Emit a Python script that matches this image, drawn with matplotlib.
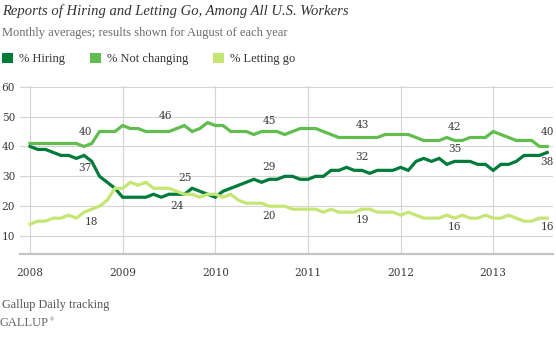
import numpy as np
import matplotlib
matplotlib.use('Agg')
from matplotlib import pyplot as plt
from matplotlib.patches import Patch

#   MONTHLY AVERAGES, JAN 2008 - AUG 2013
years = [2008, 2009, 2010, 2011, 2012, 2013]

hiring = [40, 39, 39, 38, 37, 37, 36, 37, 35, 30, 28, 26,
          23, 23, 23, 23, 24, 23, 24, 24, 24, 26, 25, 24,
          23, 25, 26, 27, 28, 29, 28, 29, 29, 30, 30, 29,
          29, 30, 30, 32, 32, 33, 32, 32, 31, 32, 32, 32,
          33, 32, 35, 36, 35, 36, 34, 35, 35, 35, 34, 34,
          32, 34, 34, 35, 37, 37, 37, 38]

not_changing = [41, 41, 41, 41, 41, 41, 41, 40, 41, 45, 45, 45,
                47, 46, 46, 45, 45, 45, 45, 46, 47, 45, 46, 48,
                47, 47, 45, 45, 45, 44, 45, 45, 45, 44, 45, 46,
                46, 46, 45, 44, 43, 43, 43, 43, 43, 43, 44, 44,
                44, 44, 43, 42, 42, 42, 43, 42, 42, 43, 43, 43,
                45, 44, 43, 42, 42, 42, 40, 40]

letting_go = [14, 15, 15, 16, 16, 17, 16, 18, 19, 20, 22, 26,
              26, 28, 27, 28, 26, 26, 26, 25, 24, 24, 23, 24,
              24, 23, 24, 22, 21, 21, 21, 20, 20, 20, 19, 19,
              19, 19, 18, 19, 18, 18, 18, 19, 19, 18, 18, 18,
              17, 18, 17, 16, 16, 16, 17, 16, 17, 16, 16, 17,
              16, 16, 17, 16, 15, 15, 16, 16]

series_names = ['% Hiring', '% Not changing', '% Letting go']
colors = ['#007b3a', '#62bd4f', '#c6e674']

#   LABEL OFFSETS IN PIXELS (DX, DY) FOR EACH AUGUST VALUE
hiring_offsets = [(1, -13), (0, -12), (0, 12), (0, 13), (0, 12), (0, -10)]
not_changing_offsets = [(1, 14), (-11, 13), (0, 11), (0, 12), (0, 13), (0, 14)]
letting_go_offsets = [(7, -10), (8, 13), (0, -10), (0, -11), (0, -9), (0, -9)]

W, H = 556, 357
text_font = 'Liberation Serif'
num_font = 'DejaVu Serif'

fig = plt.figure(figsize=(W / 100, H / 100), dpi=100)
ax = fig.add_axes([20 / W, 1 - 254 / H, 533 / W, (254 - 85.8) / H])

months = np.arange(len(hiring))
all_series = [hiring, not_changing, letting_go]
all_offsets = [hiring_offsets, not_changing_offsets, letting_go_offsets]

for values, color in zip(all_series, colors):
    ax.plot(months, values, color=color, lw=2.3, solid_joinstyle='miter', zorder=3)

#   AUGUST LABELS
aug_idx = [7 + 12 * i for i in range(len(years))]
for values, offsets in zip(all_series, all_offsets):
    for k, (dx, dy) in zip(aug_idx, offsets):
        ax.annotate(str(values[k]), (months[k], values[k]), xytext=(dx, dy),
                    textcoords='offset pixels', ha='center', va='center',
                    fontsize=7.6, family=num_font, color='#3a3a3a', zorder=4)

ax.set_xlim(-1.3, 67.75)
ax.set_ylim(4, 60.3)
ax.set_yticks([10, 20, 30, 40, 50, 60])
ax.set_xticks([12 * i for i in range(len(years))])
ax.set_xticklabels([str(y) for y in years])
ax.grid(True, color='#d4d4d4', lw=0.8, zorder=0)
ax.set_axisbelow(True)
for side in ['top', 'right', 'left']:
    ax.spines[side].set_visible(False)
ax.spines['bottom'].set_color('#c4c4c4')
ax.spines['bottom'].set_linewidth(1.6)
ax.tick_params(length=0, labelsize=7.6, labelcolor='#3a3a3a')
ax.tick_params(axis='y', pad=3.5)
ax.tick_params(axis='x', pad=10)
for lab in ax.get_xticklabels() + ax.get_yticklabels():
    lab.set_family(num_font)

#   HEADER TEXT
fig.text(2 / W, 1 - 11 / H, 'Reports of Hiring and Letting Go, Among All U.S. Workers',
         family=text_font, style='italic', fontsize=10.5, color='#333333', va='center')
fig.text(2 / W, 1 - 33 / H, 'Monthly averages; results shown for August of each year',
         family=text_font, fontsize=9, color='#6a6a6a', va='center')

handles = [Patch(facecolor=c, edgecolor='none') for c in colors]
fig.legend(handles, series_names, loc='center left', bbox_to_anchor=(2 / W, 1 - 59 / H),
           ncol=3, frameon=False, borderpad=0, borderaxespad=0,
           handlelength=0.88, handleheight=0.88, handletextpad=0.48, columnspacing=2.0,
           prop={'family': text_font, 'size': 9}, labelcolor='#333333')

#   FOOTER TEXT
fig.text(2 / W, 1 - 305 / H, 'Gallup Daily tracking', family=text_font, fontsize=8.8,
         color='#555555', va='center')
fig.text(0 / W, 1 - 323 / H, 'GALLUP', family=text_font, fontsize=9, color='#666666', va='center')
fig.text(50 / W, 1 - 320 / H, '®', family=text_font, fontsize=4, color='#666666', va='center')

fig.savefig('out.png', dpi=100)
